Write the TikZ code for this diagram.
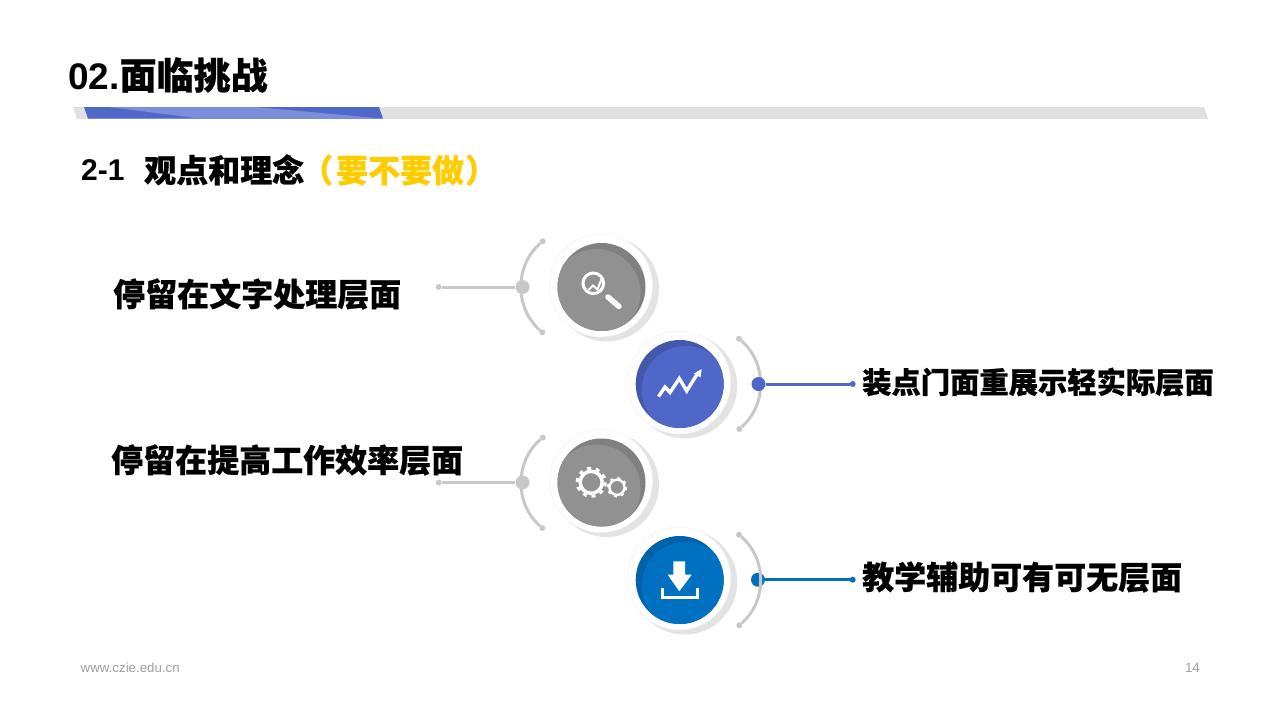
\documentclass[tikz,border=0pt]{standalone}
\usepackage{fontspec}
\setmainfont{Liberation Sans}
\newfontfamily\cjk{Noto Sans CJK SC}[BoldFeatures={FakeBold=0.6}]
\usepackage{xcolor}
\definecolor{barblue}{HTML}{4F67C8}
\definecolor{barlight}{HTML}{7B8DDB}
\definecolor{bargray}{HTML}{E0E0E0}
\definecolor{deepblue}{HTML}{0070C0}
\definecolor{arcgray}{HTML}{C8C8C8}
\definecolor{subyellow}{HTML}{FFCC00}
\tikzset{
  label text/.style={anchor=west,inner sep=0pt,font=\cjk\bfseries\fontsize{32}{32}\selectfont},
  foot text/.style={inner sep=0pt,text=gray!75,font=\fontsize{13.3}{13.3}\selectfont},
  shadow disc/.style={circle,inner sep=0pt,minimum size=105pt,fill=black!11},
  white disc/.style={circle,inner sep=0pt,minimum size=103pt,fill=white,draw=black!5,line width=0.6pt},
  tile/.style n args={3}{circle,inner sep=0pt,minimum size=88pt,fill=#1,
    path picture={\fill[#2] ([shift={(#3,6)}]path picture bounding box.center) circle (44);}},
  big dot/.style={circle,inner sep=0pt,minimum size=14pt,fill=#1},
  end dot/.style={circle,inner sep=0pt,minimum size=6pt,fill=#1},
  arc line/.style={line width=3pt,draw=arcgray},
  link line/.style={line width=3pt,draw=#1},
  icon line/.style={draw=white,line width=#1}
}
\begin{document}
\begin{tikzpicture}[x=1pt,y=-1pt]
  \useasboundingbox (0,0) rectangle (1280,720);

  \node[anchor=west,inner sep=0pt] (title) at (68,75) {\fontsize{37}{37}\selectfont\bfseries 02.{\cjk 面临挑战}};
  \fill[bargray] (73,107) -- (1204,107) -- (1208,119) -- (77,119) -- cycle;
  \fill[barblue] (84,107) -- (379,107) -- (383,118.5) -- (88,118.5) -- cycle;
  \fill[barlight] (108,107) -- (255,107) -- (382,118.5) -- (200,118.5) -- cycle;
  \node[anchor=west,inner sep=0pt] (sub) at (81,170) {\fontsize{30}{30}\selectfont\bfseries 2-1};
  \node[label text] (subtext) at (144,170) {观点和理念\textcolor{subyellow}{\hspace{-3pt}（\hspace{3pt}要不要做\hspace{1pt}）}};

  \node[shadow disc] (shadowa) at (606.5,289) {};
  \node[white disc] (ringa) at (601,285.5) {};
  \node[tile={black!50}{black!43}{-5}] (tilea) at (601.5,287) {};
  \node[shadow disc] (shadowb) at (684.7,386) {};
  \node[white disc] (ringb) at (679.2,382.5) {};
  \node[tile={barblue!85!black}{barblue}{6}] (tileb) at (679.7,384) {};
  \node[shadow disc] (shadowc) at (606.5,484.5) {};
  \node[white disc] (ringc) at (601,481) {};
  \node[tile={black!50}{black!43}{-5}] (tilec) at (601.5,482.5) {};
  \node[shadow disc] (shadowd) at (684.7,582) {};
  \node[white disc] (ringd) at (679.2,578.5) {};
  \node[tile={deepblue!88!black}{deepblue}{6}] (tiled) at (679.7,580) {};

  \node[end dot=arcgray] (topa) at (542.7,241.3) {};
  \node[end dot=arcgray] (bota) at (542.3,332.3) {};
  \node[big dot=arcgray] (mida) at (522.5,287) {};
  \node[end dot=arcgray] (enda) at (438.7,287) {};
  \draw[arc line] (topa) to[bend right=49] (bota);
  \draw[link line=arcgray] (mida) -- (enda);

  \node[end dot=arcgray] (topb) at (739,338.7) {};
  \node[end dot=arcgray] (botb) at (739.3,429) {};
  \draw[arc line] (topb) to[bend left=49] (botb);
  \node[big dot=barblue] (midb) at (758.5,384) {};
  \node[end dot=barblue] (endb) at (852.7,384) {};
  \draw[link line=barblue] (midb) -- (endb);

  \node[end dot=arcgray] (topc) at (542.7,437.5) {};
  \node[end dot=arcgray] (botc) at (542.3,528) {};
  \node[big dot=arcgray] (midc) at (522.5,482.5) {};
  \node[end dot=arcgray] (endc) at (438.7,482.5) {};
  \draw[arc line] (topc) to[bend right=49] (botc);
  \draw[link line=arcgray] (midc) -- (endc);

  \node[end dot=arcgray] (topd) at (739,534.7) {};
  \node[end dot=arcgray] (botd) at (739.3,625.3) {};
  \node[big dot=deepblue] (midd) at (758,579.7) {};
  \node[end dot=deepblue] (endd) at (852.7,579.7) {};
  \draw[arc line] (topd) to[bend left=49] (botd);
  \draw[link line=deepblue] (midd) -- (endd);

  \draw[icon line=3pt] (593.3,283.3) circle (10.3);
  \draw[icon line=5.5pt,line cap=round] (608,297) -- (619,306.5);
  \draw[icon line=2pt] (588.5,290) -- (593,285.5) -- (597.5,289.5) -- (601.5,279);

  \draw[icon line=3.4pt] (658.5,396.5) -- (665,387) -- (670,392.5) -- (679.3,378.5) -- (686.7,391) -- (697.5,373.5);
  \fill[white] (701.7,369) -- (694,373.5) -- (700.5,377.5) -- cycle;

  \draw[icon line=3.5pt] (591.2,482.3) circle (11);
  \draw[icon line=3pt,dash pattern=on 4pt off 4.8pt] (591.2,482.3) circle (14);
  \draw[icon line=2.4pt] (617,487.3) circle (7.6);
  \draw[icon line=2pt,dash pattern=on 3pt off 4.3pt] (617,487.3) circle (9.3);

  \fill[white] (673.3,561.3) -- (685,561.3) -- (685,574.7) -- (691.7,574.7) -- (679.3,591.3) -- (667.7,574.7) -- (673.3,574.7) -- cycle;
  \draw[icon line=3.5pt] (662.4,587.7) -- (662.4,597.6) -- (697.3,597.6) -- (697.3,587.7);

  \node[label text] (texta) at (113,294) {停留在文字处理层面};
  \node[label text,font=\cjk\bfseries\fontsize{29.3}{30}\selectfont] (textb) at (862,382) {装点门面重展示轻实际层面};
  \node[label text] (textc) at (111,460) {停留在提高工作效率层面};
  \node[label text] (textd) at (862,577) {教学辅助可有可无层面};

  \node[foot text,anchor=west] (site) at (80.5,668) {www.czie.edu.cn};
  \node[foot text,anchor=east] (page) at (1200,668) {14};
\end{tikzpicture}
\end{document}
